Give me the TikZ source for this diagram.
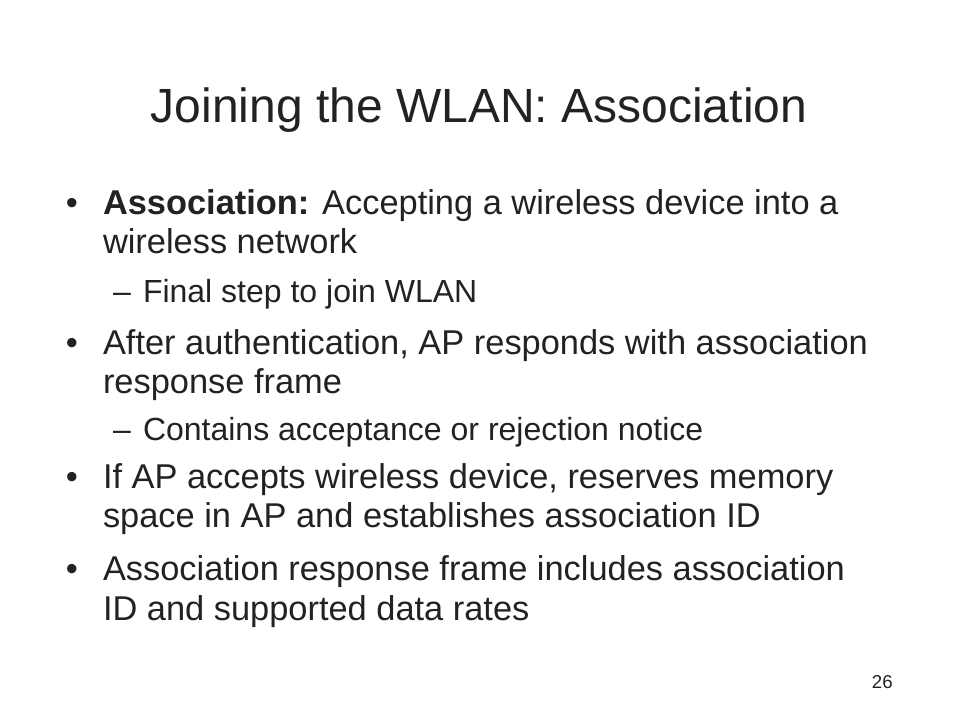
\documentclass[tikz,border=0pt]{standalone}
\usepackage{fontspec}
\setmainfont{Liberation Sans}
\definecolor{txt}{HTML}{222222}
\begin{document}
\begin{tikzpicture}[x=0.75pt,y=-0.75pt,
  body/.style={anchor=base west,inner sep=0pt,outer sep=0pt,text=txt,font=\fontsize{25.8}{28}\selectfont},
  sub/.style={anchor=base west,inner sep=0pt,outer sep=0pt,text=txt,font=\fontsize{24}{26}\selectfont},
  ttl/.style={anchor=base,inner sep=0pt,outer sep=0pt,text=txt,font=\fontsize{36}{40}\selectfont},
  dot/.style={anchor=base,inner sep=0pt,outer sep=0pt,text=txt,font=\fontsize{25.8}{28}\selectfont}]
\useasboundingbox[fill=white] (0,0) rectangle (960,720);
\node[ttl] (title) at (479,123) {Joining the WLAN: Association};
\node[dot] (b1) at (72,215) {•};
\node[body] (l1) at (103,215) {\textbf{Association:} Accepting a wireless device into a};
\node[body] (l2) at (103,254) {wireless network};
\node[sub] (s1d) at (113,302) {–};
\node[sub] (s1) at (143,302) {Final step to join WLAN};
\node[dot] (b2) at (72,354) {•};
\node[body] (l3) at (103,354) {After authentication, AP responds with association};
\node[body] (l4) at (103,393) {response frame};
\node[sub] (s2d) at (113,440) {–};
\node[sub] (s2) at (143,440) {Contains acceptance or rejection notice};
\node[dot] (b3) at (72,488) {•};
\node[body] (l5) at (103,488) {If AP accepts wireless device, reserves memory};
\node[body] (l6) at (103,527) {space in AP and establishes association ID};
\node[dot] (b4) at (72,580) {•};
\node[body] (l7) at (103,580) {Association response frame includes association};
\node[body] (l8) at (103,620) {ID and supported data rates};
\node[anchor=base east,inner sep=0pt,text=txt,font=\fontsize{14}{16}\selectfont] (pg) at (893,688) {26};
\end{tikzpicture}
\end{document}
